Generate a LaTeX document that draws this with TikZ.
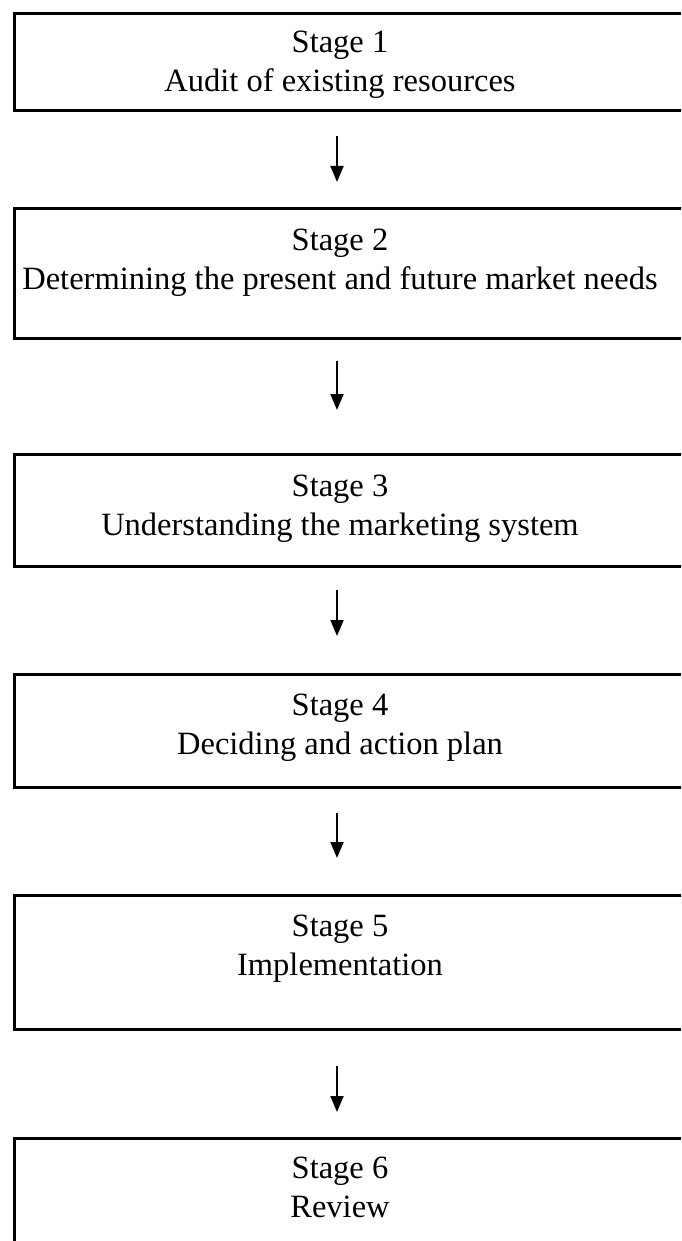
\documentclass[tikz,border=0pt]{standalone}
\usepackage{fontspec}
\setmainfont{Liberation Serif}
\usetikzlibrary{arrows.meta}

\begin{document}
\begin{tikzpicture}[x=1pt,y=-1pt,
  stagebox/.style={draw=black, line width=2.6pt, anchor=north west,
    minimum width=690pt, inner sep=0pt},
  stagetext/.style={anchor=north, align=center, inner sep=0pt,
    font=\fontsize{32.5}{38.5}\selectfont},
  flow/.style={draw=black, line width=1.9pt,
    -{Triangle[length=16pt,width=13pt]}}]
  \useasboundingbox (0,0) rectangle (681,1241);
  \clip (0,0) rectangle (681,1241);

  % column of the arrows
  \coordinate (ax) at (337,0);

  % the six stages
  \node[stagebox, minimum height=97pt]  (s1) at (13,12)   {};
  \node[stagebox, minimum height=130pt] (s2) at (13,207)  {};
  \node[stagebox, minimum height=112pt] (s3) at (13,453)  {};
  \node[stagebox, minimum height=113pt] (s4) at (13,673)  {};
  \node[stagebox, minimum height=134pt] (s5) at (13,894)  {};
  \node[stagebox, minimum height=200pt] (s6) at (13,1137) {};

  \node[stagetext] (t1) at (340,31)   {Stage 1\\Audit of existing resources};
  \node[stagetext] (t2) at (340,229)  {Stage 2\\Determining the present and future market needs};
  \node[stagetext] (t3) at (340,475)  {Stage 3\\Understanding the marketing system};
  \node[stagetext] (t4) at (340,694)  {Stage 4\\Deciding and action plan};
  \node[stagetext] (t5) at (340,915)  {Stage 5\\Implementation};
  \node[stagetext] (t6) at (340,1157) {Stage 6\\Review};

  % connectors between consecutive stages (canvas shifts point up)
  \draw[flow] ([yshift=-24pt]s1.south -| ax) -- ([yshift=25pt]s2.north -| ax);
  \draw[flow] ([yshift=-21pt]s2.south -| ax) -- ([yshift=43pt]s3.north -| ax);
  \draw[flow] ([yshift=-22pt]s3.south -| ax) -- ([yshift=37pt]s4.north -| ax);
  \draw[flow] ([yshift=-24pt]s4.south -| ax) -- ([yshift=36pt]s5.north -| ax);
  \draw[flow] ([yshift=-35pt]s5.south -| ax) -- ([yshift=25pt]s6.north -| ax);
\end{tikzpicture}
\end{document}
